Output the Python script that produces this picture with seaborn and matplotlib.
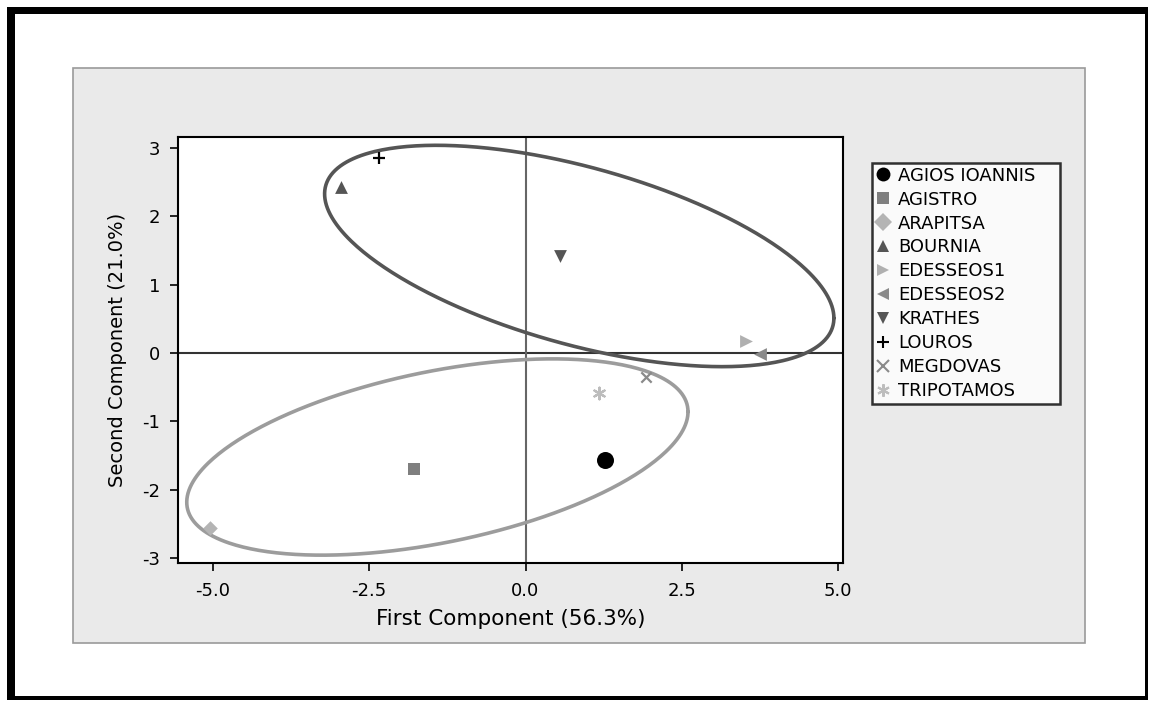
import numpy as np
import pandas as pd
import matplotlib
matplotlib.use("Agg")
import matplotlib.pyplot as plt
from matplotlib.patches import Rectangle
from matplotlib.lines import Line2D
import seaborn as sns

# Scores on the first two components
sites = ['AGIOS IOANNIS', 'AGISTRO', 'ARAPITSA', 'BOURNIA', 'EDESSEOS1',
         'EDESSEOS2', 'KRATHES', 'LOUROS', 'MEGDOVAS', 'TRIPOTAMOS']
pc1 = [1.27, -1.78, -5.05, -2.96, 3.53, 3.75, 0.55, -2.34, 1.92, 1.17]
pc2 = [-1.57, -1.70, -2.56, 2.43, 0.18, -0.01, 1.42, 2.86, -0.35, -0.59]

# Group ellipses: centre and shape matrix (data units)
upper_center = [0.86, 1.42]
upper_shape = [[16.6, -3.7], [-3.7, 2.62]]
lower_center = [-1.41, -1.52]
lower_shape = [[16.08, 2.65], [2.65, 2.06]]

x_ticks = [-5.0, -2.5, 0.0, 2.5, 5.0]
y_ticks = [-3, -2, -1, 0, 1, 2, 3]

df = pd.DataFrame({'site': sites, 'pc1': pc1, 'pc2': pc2})

asterisk = (6, 2, 0)
markers = {'AGIOS IOANNIS': 'o', 'AGISTRO': 's', 'ARAPITSA': 'D', 'BOURNIA': '^',
           'EDESSEOS1': '>', 'EDESSEOS2': '<', 'KRATHES': 'v', 'LOUROS': '+',
           'MEGDOVAS': 'x', 'TRIPOTAMOS': asterisk}
colors = {'AGIOS IOANNIS': '#000000', 'AGISTRO': '#7f7f7f', 'ARAPITSA': '#b4b4b4',
          'BOURNIA': '#555555', 'EDESSEOS1': '#b0b0b0', 'EDESSEOS2': '#8a8a8a',
          'KRATHES': '#555555', 'LOUROS': '#000000', 'MEGDOVAS': '#8a8a8a',
          'TRIPOTAMOS': '#bdbdbd'}
sizes = {'AGIOS IOANNIS': 150, 'AGISTRO': 75, 'ARAPITSA': 55, 'BOURNIA': 85,
         'EDESSEOS1': 85, 'EDESSEOS2': 85, 'KRATHES': 85, 'LOUROS': 70,
         'MEGDOVAS': 55, 'TRIPOTAMOS': 70}
line_art = ['LOUROS', 'MEGDOVAS', 'TRIPOTAMOS']

sns.set_style("white")
plt.rcParams['font.family'] = ['DejaVu Sans']
plt.rcParams['text.color'] = 'black'
plt.rcParams['axes.labelcolor'] = 'black'
plt.rcParams['axes.unicode_minus'] = False

W, H = 1151, 702
fig = plt.figure(figsize=(W / 100, H / 100), dpi=100)
fig.patch.set_facecolor('white')

# outer frame and grey panel
def frect(x0, y0, x1, y1, **kw):
    fig.patches.append(Rectangle((x0 / W, 1 - y1 / H), (x1 - x0) / W, (y1 - y0) / H,
                                 transform=fig.transFigure, **kw))

frect(73, 68, 1085, 643, facecolor='#eaeaea', edgecolor='#9a9a9a', linewidth=1.2, zorder=-2)
frect(7, 7, 15, 700, facecolor='black', edgecolor='none', zorder=8)
frect(7, 7, 1148, 14, facecolor='black', edgecolor='none', zorder=8)
frect(1145, 7, 1148, 700, facecolor='black', edgecolor='none', zorder=8)
frect(7, 696, 1148, 700, facecolor='black', edgecolor='none', zorder=8)

ax = fig.add_axes([178 / W, 1 - 563 / H, (843 - 178) / W, (563 - 137) / H])
ax.set_zorder(2)
ax.set_facecolor('white')

# reference lines
ax.axhline(0, color='#333333', lw=1.5, zorder=1)
ax.axvline(0, color='#666666', lw=1.5, zorder=1)

# ellipses
t = np.linspace(0, 2 * np.pi, 400)
circle = np.vstack([np.cos(t), np.sin(t)])
for c, s, col in [(upper_center, upper_shape, '#555555'), (lower_center, lower_shape, '#9c9c9c')]:
    L = np.linalg.cholesky(np.array(s))
    pts = L @ circle
    ax.plot(c[0] + pts[0], c[1] + pts[1], color=col, lw=2.6, zorder=2)

handles = []
for site in sites:
    sub = df[df['site'] == site]
    m = markers[site]
    lw = 1.6 if site in line_art else 0
    sns.scatterplot(data=sub, x='pc1', y='pc2', marker=m, color=colors[site],
                    s=sizes[site], linewidth=lw, edgecolor=colors[site] if lw == 0 else None,
                    ax=ax, zorder=3, legend=False)
    handles.append(Line2D([], [], linestyle='none', marker=m, color=colors[site],
                          markersize=9 if m != 'o' else 10, markeredgewidth=1.5 if lw else 0,
                          label=site))

ax.set_xlim(-5.56, 5.08)
ax.set_ylim(-3.07, 3.16)
ax.set_xticks(x_ticks)
ax.set_xticklabels([f'{v:.1f}' for v in x_ticks])
ax.set_yticks(y_ticks)
ax.tick_params(axis='both', direction='out', length=6, width=1.2, colors='black',
               labelsize=13, bottom=True, left=True)
ax.tick_params(axis='x', pad=8)
ax.tick_params(axis='y', pad=7)
for sp in ax.spines.values():
    sp.set_color('black')
    sp.set_linewidth(1.5)

ax.set_xlabel('First Component (56.3%)', fontsize=15.5, labelpad=6)
ax.set_ylabel('Second Component (21.0%)', fontsize=14, labelpad=11)

leg = fig.legend(handles=handles, loc='upper left',
                 bbox_to_anchor=(872 / W, 1 - 403 / H, 188 / W, 240 / H), mode='expand',
                 frameon=True, fontsize=13, handlelength=0.8, handletextpad=0.45,
                 labelspacing=0.33, borderpad=0.2, borderaxespad=0, fancybox=False)
leg.get_frame().set_edgecolor('black')
leg.get_frame().set_linewidth(1.8)
leg.get_frame().set_facecolor('white')
leg.set_zorder(6)

fig.savefig('out.png', dpi=100)
